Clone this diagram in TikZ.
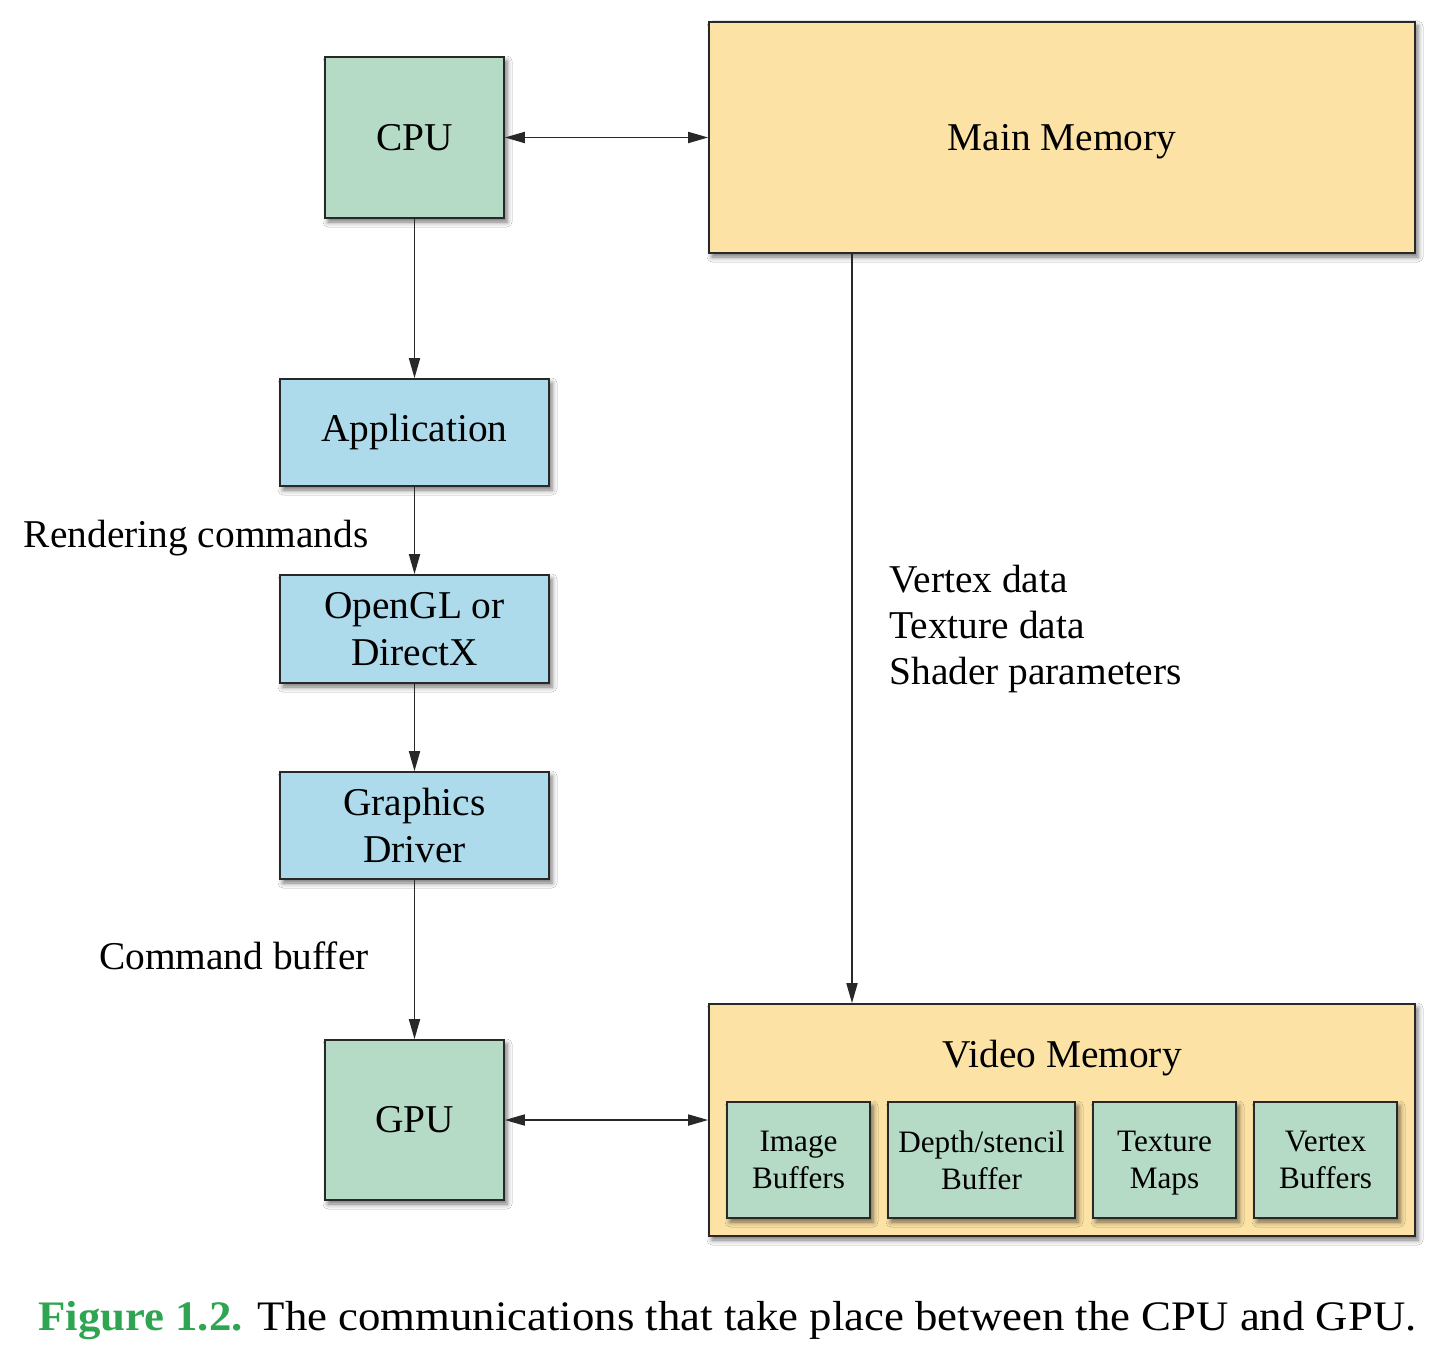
\documentclass[tikz,border=0pt]{standalone}
\usepackage{fontspec}
\setmainfont{Liberation Serif}
\usetikzlibrary{arrows.meta,shadows.blur}
\definecolor{boxgreen}{RGB}{181,219,199}
\definecolor{boxblue}{RGB}{173,219,235}
\definecolor{memyellow}{RGB}{252,226,165}
\definecolor{figgreen}{RGB}{46,165,80}
\definecolor{edgegray}{RGB}{40,40,40}
\begin{document}
\begin{tikzpicture}[x=0.5pt,y=-0.5pt,
  sz/.style 2 args={minimum width={#1*0.5pt}, minimum height={#2*0.5pt}},
  box/.style={draw=edgegray, line width=0.85pt, inner sep=0pt, align=center,
    blur shadow={shadow xshift=1.5pt, shadow yshift=-2pt, shadow blur radius=2.5pt, shadow opacity=55},
    font=\fontsize{19.7}{23.5}\selectfont},
  greenbox/.style={box, fill=boxgreen},
  bluebox/.style={box, fill=boxblue},
  membox/.style={box, fill=memyellow},
  subbox/.style={box, fill=boxgreen, text depth=0pt, font=\fontsize{15.6}{18.5}\selectfont},
  lbl/.style={inner sep=0pt, font=\fontsize{19.7}{23.5}\selectfont},
  arr/.style={draw=edgegray, line width=0.9pt, -{Triangle[length=10pt,width=5.5pt]}},
  darr/.style={draw=edgegray, line width=0.9pt, {Triangle[length=10pt,width=5.5pt]}-{Triangle[length=10pt,width=5.5pt]}}
]
\fill[white] (0,0) rectangle (1438,1348);
\useasboundingbox (0,0) rectangle (1438,1348);

\node[greenbox, sz={179}{161}] (cpu) at (414.5,137.5) {CPU};
\node[membox, sz={706}{231}, text depth=0pt] (mm) at (1062,137.5) {Main Memory};
\node[bluebox, sz={269}{107}] (app) at (414.5,432.5) {Application};
\node[bluebox, sz={269}{108}] (ogl) at (414.5,629) {OpenGL or\\DirectX};
\node[bluebox, sz={269}{107}] (drv) at (414.5,825.5) {Graphics\\Driver};
\node[greenbox, sz={179}{160}] (gpu) at (414.5,1120) {GPU};
\node[membox, sz={706}{232}] (vm) at (1062,1120) {};
\node[lbl, anchor=base] (vmt) at (1062,1067) {Video Memory};

\node[subbox, sz={143}{116}] (img) at (798.5,1160) {Image\\Buffers};
\node[subbox, sz={187}{116}] (dep) at (981.5,1160) {Depth/stencil\\Buffer};
\node[subbox, sz={143}{116}] (tex) at (1164.5,1160) {Texture\\Maps};
\node[subbox, sz={143}{116}] (vtx) at (1325.5,1160) {Vertex\\Buffers};

\draw[darr] (cpu.east) -- (mm.west);
\draw[darr] (gpu.east) -- (vm.west);
\draw[arr] (cpu.south) -- (app.north);
\draw[arr] (app.south) -- (ogl.north);
\draw[arr] (ogl.south) -- (drv.north);
\draw[arr] (drv.south) -- (gpu.north);
\coordinate (vx) at (852,0);
\draw[arr] (vx |- mm.south) -- (vx |- vm.north);

\node[lbl, anchor=base east] (rc) at (369,547) {Rendering commands};
\node[lbl, anchor=base east] (cb) at (369,969) {Command buffer};
\node[lbl, anchor=base west] (vd) at (889,592) {Vertex data};
\node[lbl, anchor=base west] (td) at (889,638) {Texture data};
\node[lbl, anchor=base west] (sp) at (889,684) {Shader parameters};

\node[inner sep=0pt, anchor=base west, font=\fontsize{21}{25}\selectfont] (cap) at (38,1330)
  {\scalebox{1.066}[1]{\textcolor{figgreen}{\bfseries Figure 1.2.} The communications that take place between the CPU and GPU.}};
\end{tikzpicture}
\end{document}
